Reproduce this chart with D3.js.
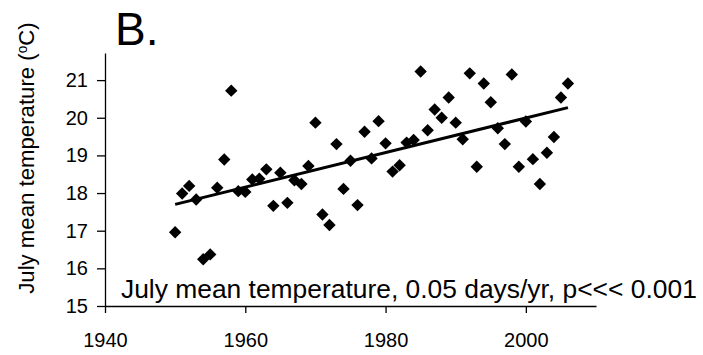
<!DOCTYPE html>
<html>
<head>
<meta charset="utf-8">
<script src="https://cdn.jsdelivr.net/npm/d3@7"></script>
<style>
  html, body { margin: 0; padding: 0; background: #fff; }
  svg { display: block; font-family: "Liberation Sans", Arial, sans-serif; }
</style>
</head>
<body>
<svg id="chart" width="703" height="355"></svg>
<script>
// ---- data ----
const years = [1950,1951,1952,1953,1954,1955,1956,1957,1958,1959,
               1960,1961,1962,1963,1964,1965,1966,1967,1968,1969,
               1970,1971,1972,1973,1974,1975,1976,1977,1978,1979,
               1980,1981,1982,1983,1984,1985,1986,1987,1988,1989,
               1990,1991,1992,1993,1994,1995,1996,1997,1998,1999,
               2000,2001,2002,2003,2004,2005,2006];
const julyTemp = [16.96,17.99,18.19,17.83,16.24,16.37,18.14,18.89,20.72,18.05,
                  18.03,18.36,18.38,18.63,17.66,18.54,17.74,18.34,18.24,18.72,
                  19.87,17.43,17.15,19.30,18.11,18.86,17.68,19.63,18.92,19.91,
                  19.32,18.57,18.74,19.34,19.41,21.23,19.67,20.22,20.00,20.54,
                  19.87,19.43,21.18,18.70,20.91,20.41,19.72,19.30,21.15,18.70,
                  19.90,18.90,18.24,19.07,19.49,20.54,20.91];
const trendYears = [1950, 2006];
const trendValues = [17.70, 20.27];
const xTicks = [1940, 1960, 1980, 2000];
const yTicks = [15, 16, 17, 18, 19, 20, 21];
const panelLabel = "B.";
const yTitle = "July mean temperature (";
const annotation = "July mean temperature, 0.05 days/yr, p<<< 0.001";

// ---- layout ----
const svg = d3.select("#chart");
const x = d3.scaleLinear().domain([1940, 2010]).range([105, 596]);
const y = d3.scaleLinear().domain([15, 21.72]).range([306, 53]);

// axes
const xAxis = d3.axisBottom(x).tickValues(xTicks).tickFormat(d3.format("d"))
  .tickSizeInner(7).tickSizeOuter(0).tickPadding(20);
const gx = svg.append("g").attr("transform", `translate(0,${y(15)})`).call(xAxis);
gx.select(".domain").attr("stroke", "#000").attr("stroke-width", 1.3);
gx.selectAll(".tick line").attr("stroke", "#000").attr("stroke-width", 1.3);
gx.selectAll(".tick text").attr("font-size", 20).attr("fill", "#000")
  .attr("font-family", "Liberation Sans, Arial, sans-serif");

const yAxis = d3.axisLeft(y).tickValues(yTicks).tickFormat(d3.format("d"))
  .tickSizeInner(8).tickSizeOuter(0).tickPadding(9);
const gy = svg.append("g").attr("transform", `translate(${x(1940)},0)`).call(yAxis);
gy.select(".domain").attr("stroke", "#000").attr("stroke-width", 1.3);
gy.selectAll(".tick line").attr("stroke", "#000").attr("stroke-width", 1.3);
gy.selectAll(".tick text").attr("font-size", 20).attr("fill", "#000")
  .attr("font-family", "Liberation Sans, Arial, sans-serif");

// y title (sized so it spans the same height as in the reference)
const yt = svg.append("text")
  .attr("transform", `translate(34,${(22 + 294) / 2}) rotate(-90)`)
  .attr("text-anchor", "middle")
  .attr("font-size", 20)
  .attr("fill", "#000")
  .text(yTitle);
const sup = yt.append("tspan").attr("font-size", 13).attr("dy", -7).text("o");
yt.append("tspan").attr("dy", 7).text("C)");
const len = yt.node().getComputedTextLength();
const fs = 20 * 272 / len;
yt.attr("font-size", fs);
sup.attr("font-size", fs * 0.62);

// panel label
svg.append("text").attr("x", 115).attr("y", 45).attr("font-size", 46)
  .attr("fill", "#000").text(panelLabel);

// trend line
const pts = trendYears.map((d, i) => [x(d), y(trendValues[i])]);
svg.append("path").attr("d", d3.line()(pts))
  .attr("stroke", "#000").attr("stroke-width", 3).attr("fill", "none");

// markers (diamonds)
const r = 6.2;
svg.append("g").selectAll("path").data(years).join("path")
  .attr("d", (d, i) => {
    const cx = x(d), cy = y(julyTemp[i]);
    return `M${cx},${cy - r}L${cx + r},${cy}L${cx},${cy + r}L${cx - r},${cy}Z`;
  })
  .attr("fill", "#000");

// annotation
svg.append("text").attr("x", 121).attr("y", 298).attr("font-size", 26.4)
  .attr("fill", "#000").text(annotation);
</script>
</body>
</html>
